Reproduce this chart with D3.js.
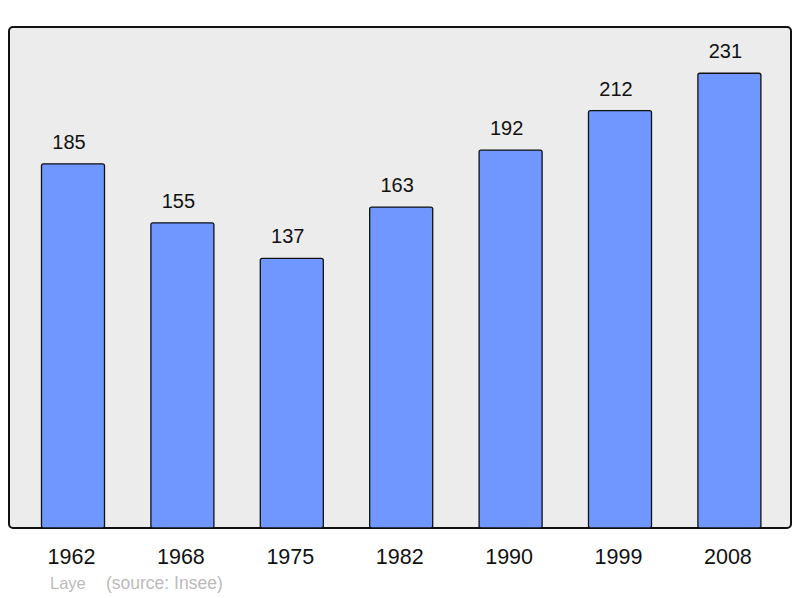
<!DOCTYPE html>
<html><head><meta charset="utf-8">
<script src="https://cdn.jsdelivr.net/npm/d3@7"></script>
<style>body{margin:0;background:#fff}svg{display:block}</style>
</head><body>
<script>
const years = ["1962","1968","1975","1982","1990","1999","2008"];
const population = [185,155,137,163,192,212,231];
const title = "Laye";
const source = "(source: Insee)";

const W = 800, H = 598;
const svg = d3.select("body").append("svg").attr("width", W).attr("height", H);
const font = "'Liberation Sans', Arial, sans-serif";

svg.append("rect").attr("x", 9).attr("y", 27).attr("width", 782).attr("height", 501)
  .attr("rx", 4).attr("fill", "#ececec").attr("stroke", "#111").attr("stroke-width", 2);

const x = d3.scaleBand().domain(years).range([18.3, 784.1]).paddingInner(0.424).paddingOuter(0.212);
const y = d3.scaleLinear().domain([0, 254.5]).range([528, 27]);

svg.selectAll("rect.bar").data(years).enter().append("rect").attr("class","bar")
  .attr("x", d => x(d)).attr("width", x.bandwidth())
  .attr("y", (d,i) => y(population[i])).attr("height", (d,i) => 528 - y(population[i]))
  .attr("rx", 2).attr("fill", "#7097ff").attr("stroke", "#111").attr("stroke-width", 1.3);

svg.selectAll("text.val").data(years).enter().append("text").attr("class","val")
  .attr("x", d => x(d) + x.bandwidth()/2 - 4).attr("y", (d,i) => y(population[i]) - 15)
  .attr("text-anchor","middle").attr("font-family", font).attr("font-size", 20).attr("fill","#111")
  .text((d,i) => population[i]);

const xAxis = d3.axisBottom(x).tickSize(0).tickPadding(0);
const ax = svg.append("g").attr("transform","translate(-1.5,564)").call(xAxis);
ax.select(".domain").remove();
ax.selectAll("text").attr("font-family", font).attr("font-size", 21.5).attr("fill","#111").attr("dy", 0);

svg.append("text").attr("x", 50).attr("y", 589).attr("font-family", font).attr("font-size", 16.5)
  .attr("fill","#bbb").text(title);
svg.append("text").attr("x", 106).attr("y", 589).attr("font-family", font).attr("font-size", 17.5)
  .attr("fill","#bbb").text(source);
</script>
</body></html>
